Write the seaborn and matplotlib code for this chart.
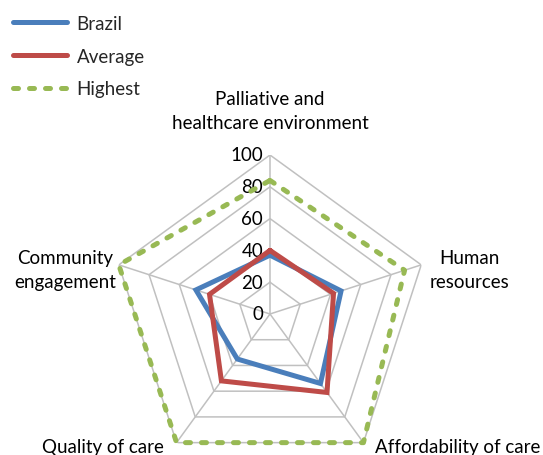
import numpy as np
import pandas as pd
import matplotlib
matplotlib.use("Agg")
import matplotlib.pyplot as plt
import seaborn as sns

categories = ["Palliative and\nhealthcare environment", "Human\nresources",
              "Affordability of care", "Quality of care", "Community\nengagement"]
brazil = [37, 47, 54, 35, 49]
average = [40, 42, 61, 52, 40]
highest = [84, 89, 100, 100, 100]
r_ticks = [0, 20, 40, 60, 80, 100]
series_names = ["Brazil", "Average", "Highest"]
colors = ["#4A7EBB", "#BE4B48", "#98B954"]

sns.set_theme(style="white")
plt.rcParams["font.family"] = ["Lato", "DejaVu Sans"]

W, H = 543, 456
fig = plt.figure(figsize=(W / 100, H / 100), dpi=100)
cx, cy, R = 270, 315, 159
ax = fig.add_axes([(cx - R) / W, (H - cy - R) / H, 2 * R / W, 2 * R / H], projection="polar")
ax.set_theta_offset(np.pi / 2)
ax.set_theta_direction(-1)
ax.set_ylim(0, 100)
ax.grid(False)
ax.spines["polar"].set_visible(False)
ax.set_xticks([])
ax.set_yticks([])
ax.patch.set_alpha(0)

n = len(categories)
theta = np.linspace(0, 2 * np.pi, n, endpoint=False)
theta_c = np.append(theta, theta[0])

grid_col = "#C0C0C0"
for lv in r_ticks[1:]:
    ax.plot(theta_c, [lv] * (n + 1), color=grid_col, lw=1.1, zorder=1)
for t in theta:
    ax.plot([t, t], [0, 100], color=grid_col, lw=1.1, zorder=1)

rows = []
for name, vals in zip(series_names, [brazil, average, highest]):
    vc = list(vals) + [vals[0]]
    for t, v in zip(theta_c, vc):
        rows.append({"series": name, "theta": t, "value": v})
df = pd.DataFrame(rows)

styles = {"Brazil": "-", "Average": "-", "Highest": (0, (1.0, 2.2))}
for i, name in enumerate(series_names):
    sub = df[df["series"] == name]
    sns.lineplot(data=sub, x="theta", y="value", sort=False, ax=ax, color=colors[i],
                 lw=3.6, linestyle=styles[name], solid_joinstyle="miter",
                 dash_capstyle="round", label=name, legend=False, zorder=3 + i,
                 clip_on=False, estimator=None)

ax.set_xlabel("")
ax.set_ylabel("")

fs = 13.5
for v in r_ticks:
    ax.annotate(str(v), xy=(0, v), xytext=(-5, 0), textcoords="offset points",
                ha="right", va="center", fontsize=fs, color="#000000")

offsets = [((0, 32), "center", "center"), ((6, -3), "left", "center"),
           ((8, -3), "left", "center"), ((-9, -3), "right", "center"),
           ((-2, -3), "right", "center")]
for t, lab, (off, ha, va) in zip(theta, categories, offsets):
    ax.annotate(lab, xy=(t, 100), xytext=off, textcoords="offset points",
                ha=ha, va=va, fontsize=fs, color="#000000", multialignment="center",
                linespacing=1.5, annotation_clip=False)

handles = ax.get_lines()[-3:]
leg = fig.legend(handles, series_names, loc="upper left",
                 bbox_to_anchor=(13 / W, 1 - 16 / H), frameon=False, fontsize=fs,
                 handlelength=2.9, handletextpad=0.5, labelspacing=0.84,
                 borderpad=0, borderaxespad=0)

fig.savefig("out.png", dpi=100)
